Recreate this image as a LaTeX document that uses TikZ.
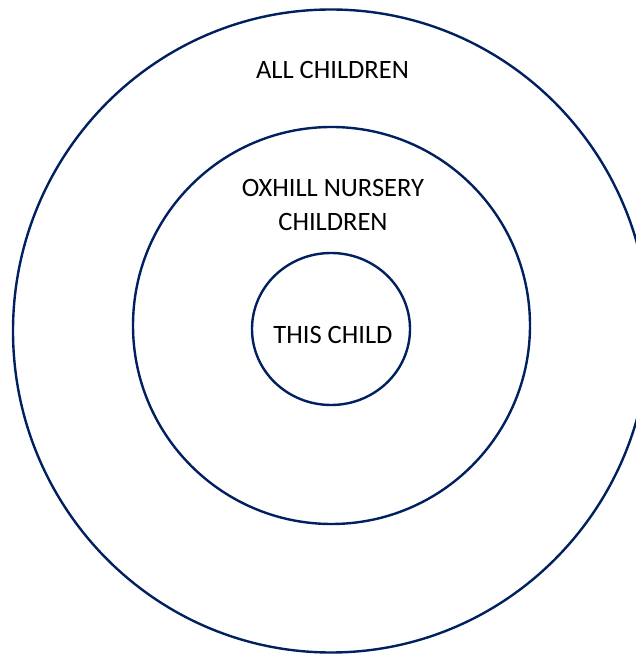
\documentclass[tikz,border=0pt]{standalone}
\usepackage{fontspec}
\setmainfont{Carlito}
\usetikzlibrary{shapes.geometric}
\definecolor{ringblue}{RGB}{0,32,96}
\begin{document}
\begin{tikzpicture}[x=1pt,y=1pt,
  ring/.style={draw=ringblue, line width=2.4pt, ellipse, inner sep=0pt},
  lbl/.style={font=\fontsize{26.5}{34}\selectfont, text=black, inner sep=0pt, align=center}]
\clip (0,0) rectangle (636,654);
\useasboundingbox (0,0) rectangle (636,654);
\node[ring, minimum width=636pt, minimum height=643pt] (outer) at (331,323) {};
\node[ring, minimum width=397pt, minimum height=397pt] (middle) at (331.5,328.5) {};
\node[ring, minimum width=158pt, minimum height=152pt] (inner) at (331,325) {};
\node[lbl, anchor=base] (all) at (332.5,575.7) {ALL CHILDREN};
\node[lbl, anchor=base] (oxhill) at (333,457.3) {OXHILL NURSERY};
\node[lbl, anchor=base] (oxhill2) at (333,423) {CHILDREN};
\node[lbl, anchor=base] (this) at (333,310) {THIS CHILD};
\end{tikzpicture}
\end{document}
